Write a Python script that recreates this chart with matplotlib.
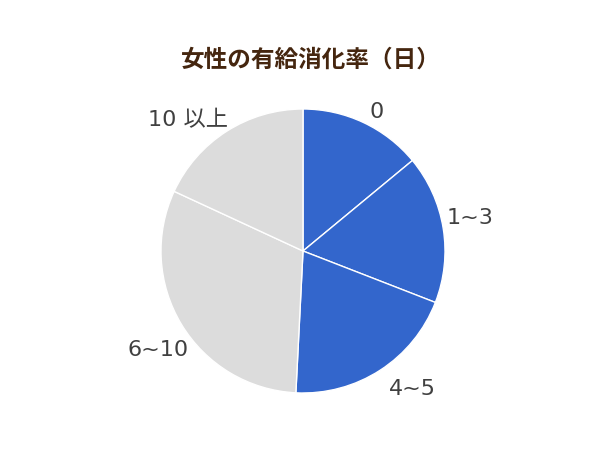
import matplotlib.pyplot as plt

plt.rcParams['font.family'] = ['DejaVu Sans', 'Noto Sans CJK JP']

title = "女性の有給消化率（日）"
categories = ["0", "1~3", "4~5", "6~10", "10 以上"]
shares = [14.0, 16.9, 19.9, 31.1, 18.1]
colors = ["#3366cc", "#3366cc", "#3366cc", "#dcdcdc", "#dcdcdc"]
# label centres, in pixels from the top-left of the 600x450 image
label_px = [(376.7, 112.5), (470, 218.3), (412.5, 388.7), (158, 349.5), (187.5, 120)]


def main():
    fig = plt.figure(figsize=(6, 4.5), dpi=100)

    # pie centre at (303, 251) px from top-left, radius ~142 px
    cx, cy, r = 303, 251, 142
    ax = fig.add_axes([(cx - r) / 600, (450 - cy - r) / 450, 2 * r / 600, 2 * r / 450])
    wedges, texts = ax.pie(
        shares,
        labels=categories,
        colors=colors,
        startangle=90,
        counterclock=False,
        wedgeprops={"edgecolor": "white", "linewidth": 1},
        textprops={"fontsize": 16, "color": "#404040",
                   "family": ["DejaVu Sans", "Noto Sans CJK JP"]},
    )
    for t, (px, py) in zip(texts, label_px):
        t.set_position(((px - cx) / r, (cy - py) / r))
        t.set_ha("center")
        t.set_va("center")
        t.set_clip_on(False)
    ax.set_xlim(-1, 1)
    ax.set_ylim(-1, 1)
    ax.axis("off")

    fig.text(0.5175, 1 - 60 / 450, title, ha="center", va="center",
             fontsize=17, fontweight="bold", color="#45260f",
             family=["Noto Sans CJK JP", "DejaVu Sans"])

    fig.savefig("out.png", dpi=100)


if __name__ == "__main__":
    main()
